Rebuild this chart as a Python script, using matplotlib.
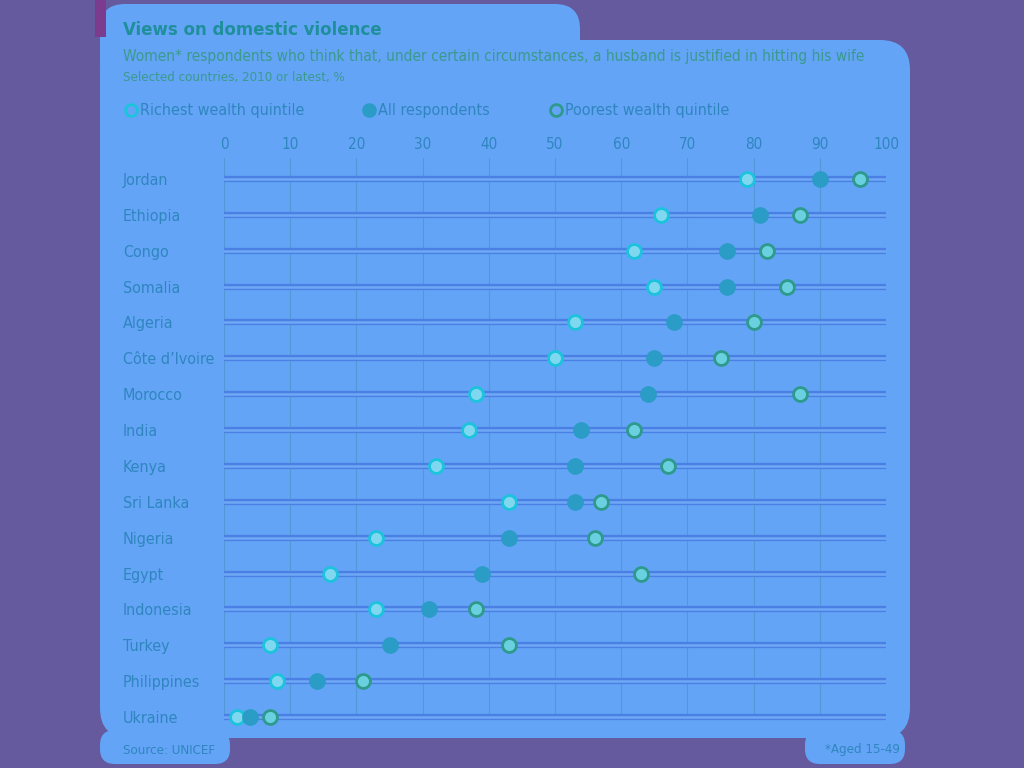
"""Views on domestic violence - dumbbell chart, Economist layout with the tinted look of the reference."""
import matplotlib
matplotlib.use("Agg")
import matplotlib.pyplot as plt
from matplotlib.patches import FancyBboxPatch, Rectangle

countries = ["Jordan", "Ethiopia", "Congo", "Somalia", "Algeria", "Côte d’Ivoire",
             "Morocco", "India", "Kenya", "Sri Lanka", "Nigeria", "Egypt",
             "Indonesia", "Turkey", "Philippines", "Ukraine"]
richest = [79, 66, 62, 65, 53, 50, 38, 37, 32, 43, 23, 16, 23, 7, 8, 2]
all_resp = [90, 81, 76, 76, 68, 65, 64, 54, 53, 53, 43, 39, 31, 25, 14, 4]
poorest = [96, 87, 82, 85, 80, 75, 87, 62, 67, 57, 56, 63, 38, 43, 21, 7]
xticks = list(range(0, 101, 10))

BG, PANEL = "#665a9e", "#63a4f6"
TXT, TITLE = "#2f86bf", "#1f8f9c"
BAR_EDGE, BAR_IN = "#4a80e4", "#6fa9f6"
GRID = "#4b93c9"
RICH, ALL, POOR = "#1cc3dc", "#2a9cc6", "#2d9a8c"

plt.rcParams.update({"font.family": ["DejaVu Sans"], "font.stretch": "condensed",
                     "figure.facecolor": BG})

W, H = 1024, 768
fig = plt.figure(figsize=(W / 100, H / 100), dpi=100)

# tinted panel behind the chart
bg = fig.add_axes([0, 0, 1, 1], zorder=0)
bg.set_xlim(0, W); bg.set_ylim(H, 0); bg.axis("off")
for (x, y, w, h, r) in [(100, 40, 810, 698, 30), (100, 4, 480, 90, 25),
                        (100, 730, 130, 34, 15), (805, 730, 100, 34, 15)]:
    bg.add_patch(FancyBboxPatch((x, y), w, h, fc=PANEL, ec="none",
                                boxstyle=f"round,pad=0,rounding_size={r}"))
bg.add_patch(Rectangle((95, 0), 11, 37, fc="#7b3b8e", ec="none"))

# titles
bg.text(123, 30, "Views on domestic violence", color=TITLE, fontsize=13.3,
        weight="bold", va="center")
bg.text(123, 57, "Women* respondents who think that, under certain circumstances, "
        "a husband is justified in hitting his wife", color="#3a9a8c",
        fontsize=11.1, va="center")
bg.text(123, 77, "Selected countries, 2010 or latest, %", color="#3a9a8c",
        fontsize=9.5, va="center")

# legend row
legend = [(131, "Richest wealth quintile", RICH, "none"),
          (369, "All respondents", ALL, ALL),
          (556, "Poorest wealth quintile", POOR, "none")]
for x, label, ec, fc in legend:
    bg.plot(x, 110, "o", ms=8.5, mec=ec, mfc=fc, mew=2)
    bg.text(x + 9, 110, label, color=TXT, fontsize=11.5, va="center")

bg.text(123, 750, "Source: UNICEF", color=TXT, fontsize=9.5, va="center")
bg.text(900, 750, "*Aged 15-49", color=TXT, fontsize=9.5, va="center", ha="right")

# main axes
ax = fig.add_axes([224 / W, 1 - 738.5 / H, (886 - 224) / W, 581 / H], zorder=1)
ax.patch.set_alpha(0)
n = len(countries)
ypos = list(range(n))
ax.set_xlim(0, 100)
ax.set_ylim(n - 0.4, -0.6)
ax.vlines(xticks, -0.65, n - 1, color=GRID, lw=0.8, alpha=0.7, zorder=1)
for y in ypos:
    ax.plot([0, 100], [y, y], color=BAR_EDGE, lw=4.5, solid_capstyle="round", zorder=2)
    ax.plot([0, 100], [y, y], color=BAR_IN, lw=1.8, solid_capstyle="round", zorder=2)

ax.plot(richest, ypos, "o", ms=10, mfc="#7fd8ef", mec=RICH, mew=2, ls="none", zorder=4)
ax.plot(all_resp, ypos, "o", ms=11, mfc=ALL, mec=ALL, ls="none", zorder=4)
ax.plot(poorest, ypos, "o", ms=10, mfc="#6ad0e0", mec=POOR, mew=2, ls="none", zorder=4)

ax.xaxis.tick_top()
ax.set_xticks(xticks)
ax.set_xticklabels([str(v) for v in xticks], color=TXT, fontsize=11)
ax.set_yticks(ypos)
ax.set_yticklabels(countries, color=TXT, fontsize=11.5, ha="left")
ax.tick_params(axis="both", length=0)
ax.tick_params(axis="x", pad=4)
ax.tick_params(axis="y", pad=72.7)
for s in ax.spines.values():
    s.set_visible(False)

fig.savefig("out.png", dpi=100, facecolor=BG)
